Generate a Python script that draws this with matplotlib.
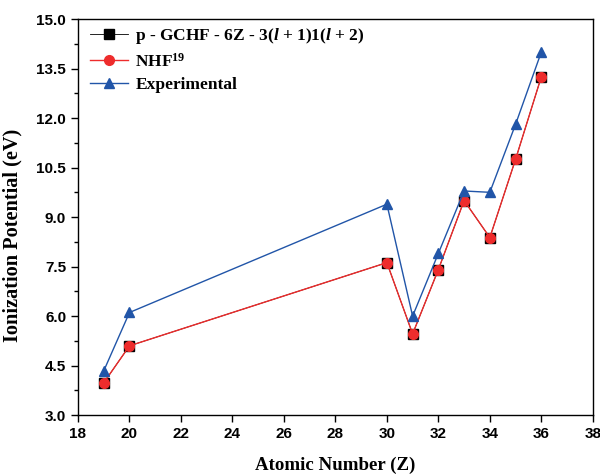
import matplotlib
matplotlib.use('Agg')
import matplotlib.pyplot as plt
from matplotlib.ticker import MultipleLocator

# Data
atomic_number = [19, 20, 30, 31, 32, 33, 34, 35, 36]
gchf = [3.98, 5.10, 7.62, 5.46, 7.41, 9.50, 8.38, 10.75, 13.25]
nhf = [3.98, 5.10, 7.62, 5.46, 7.41, 9.50, 8.38, 10.75, 13.25]
experimental = [4.34, 6.11, 9.39, 6.00, 7.90, 9.79, 9.75, 11.81, 14.00]

plt.rcParams['mathtext.fontset'] = 'custom'
plt.rcParams['mathtext.rm'] = 'Liberation Serif:bold'
plt.rcParams['mathtext.it'] = 'Liberation Serif:bold:italic'
plt.rcParams['mathtext.bf'] = 'Liberation Serif:bold'
plt.rcParams['mathtext.default'] = 'rm'

fig = plt.figure(figsize=(6, 4.75), dpi=100)
ax = fig.add_axes([0.13, 0.126, 0.858, 0.834])

ax.plot(atomic_number, gchf, '-s', color='black', markersize=6.5, linewidth=0.6,
        label=r'p - GCHF - 6Z - 3($\mathit{l}$ + 1)1($\mathit{l}$ + 2)', zorder=2)
ax.plot(atomic_number, nhf, '-o', color='#ee2c2c', markersize=7, linewidth=1,
        label=r'NHF$^{19}$', zorder=3)
ax.plot(atomic_number, experimental, '-^', color='#2155a8', markersize=7.5, linewidth=1,
        label='Experimental', zorder=4)

ax.set_xlim(18, 38)
ax.set_ylim(3.0, 15.0)
ax.xaxis.set_major_locator(MultipleLocator(2))
ax.yaxis.set_major_locator(MultipleLocator(1.5))
ax.yaxis.set_minor_locator(MultipleLocator(0.75))
ax.tick_params(axis='both', which='major', direction='out', length=5, width=1)
ax.tick_params(axis='y', which='minor', direction='out', length=3, width=1)
ax.yaxis.set_major_formatter(plt.FormatStrFormatter('%.1f'))

for lab in ax.get_xticklabels() + ax.get_yticklabels():
    lab.set_fontfamily('Liberation Sans')
    lab.set_fontweight('bold')
    lab.set_fontsize(11)

ax.set_xlabel('Atomic Number (Z)', fontfamily='Liberation Serif', fontweight='bold', fontsize=13.6, labelpad=11)
ax.set_ylabel('Ionization Potential (eV)', fontfamily='Liberation Serif', fontweight='bold', fontsize=14.6)
ax.yaxis.set_label_coords(-0.108, 0.455)

for spine in ax.spines.values():
    spine.set_linewidth(1)

ax.legend(loc='upper left', bbox_to_anchor=(0.0, 1.012), frameon=False,
          handlelength=2.2, handletextpad=0.4, borderaxespad=0.3,
          prop={'family': 'Liberation Serif', 'weight': 'bold', 'size': 12.5},
          labelspacing=0.35)

fig.savefig('out.png', dpi=100)
